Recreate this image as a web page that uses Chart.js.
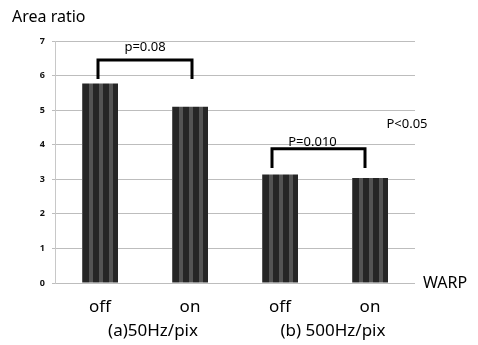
<!DOCTYPE html>
<html><head><meta charset="utf-8">
<script src="https://cdn.jsdelivr.net/npm/chart.js@4"></script>
<style>html,body{margin:0;padding:0;background:#fff}#c{display:block}</style>
</head><body>
<canvas id="c" width="478" height="345"></canvas>
<script>
const categories = ["off", "on", "off", "on"];
const areaRatio = [5.77, 5.1, 3.14, 3.04];
const yTicks = [0, 1, 2, 3, 4, 5, 6, 7];
const groupLabels = ["(a)50Hz/pix", "(b) 500Hz/pix"];
const pLabels = ["p=0.08", "P=0.010"];
const sideNote = "P<0.05";
const axisTitleY = "Area ratio";
const axisTitleX = "WARP";

const FONT = "'Noto Sans', 'Open Sans', sans-serif";

// striped pattern (period 10px aligns with 90px category spacing)
function makePattern(ctx){
  const p = document.createElement('canvas');
  p.width = 10; p.height = 10;
  const pc = p.getContext('2d');
  pc.fillStyle = '#545454'; pc.fillRect(0,0,10,10);
  pc.fillStyle = '#262626'; pc.fillRect(3,0,6,10);
  return ctx.createPattern(p, 'repeat');
}

const annot = {
  id: 'annot',
  afterDatasetsDraw(chart){
    const {ctx, scales:{x,y}} = chart;
    ctx.save();
    // brackets
    const brackets = [
      {a:0, b:1, top:6.45, leg:5.9, label:pLabels[0], da:-2, db:2, ty:-13, tx:0},
      {a:2, b:3, top:3.88, leg:3.33, label:pLabels[1], da:-8, db:-5, ty:-7, tx:-6}
    ];
    ctx.strokeStyle = '#000'; ctx.lineWidth = 3; ctx.lineJoin='miter';
    brackets.forEach(br=>{
      const xa = x.getPixelForValue(br.a) + br.da, xb = x.getPixelForValue(br.b) + br.db;
      const yt = y.getPixelForValue(br.top), yl = y.getPixelForValue(br.leg);
      ctx.beginPath();
      ctx.moveTo(xa, yl); ctx.lineTo(xa, yt); ctx.lineTo(xb, yt); ctx.lineTo(xb, yl);
      ctx.stroke();
      ctx.fillStyle = '#000';
      ctx.font = '13px ' + FONT;
      ctx.textAlign = 'center'; ctx.textBaseline = 'middle';
      ctx.fillText(br.label, (xa+xb)/2 + br.tx, yt + br.ty);
    });
    ctx.font = '13px ' + FONT;
    ctx.textAlign = 'center'; ctx.textBaseline = 'middle';
    ctx.fillText(sideNote, 407, y.getPixelForValue(4.6));
    // axis titles
    ctx.font = '16px ' + FONT;
    ctx.textAlign = 'left'; ctx.textBaseline = 'middle';
    ctx.fillText(axisTitleY, 12, 17);
    ctx.fillText(axisTitleX, 423, y.getPixelForValue(0));
    // group labels
    ctx.textAlign = 'center';
    ctx.font = '17px ' + FONT;
    [[0,1],[2,3]].forEach((g,i)=>{
      const cx = (x.getPixelForValue(g[0]) + x.getPixelForValue(g[1]))/2 + 8;
      ctx.fillText(groupLabels[i], cx, 331);
    });
    ctx.restore();
  }
};

const canvas = document.getElementById('c');
const ctx2 = canvas.getContext('2d');
new Chart(canvas, {
  type: 'bar',
  data: {
    labels: categories,
    datasets: [{
      data: areaRatio,
      backgroundColor: makePattern(ctx2),
      borderWidth: 0,
      barPercentage: 0.4,
      categoryPercentage: 1.0
    }]
  },
  options: {
    responsive: false,
    animation: false,
    devicePixelRatio: 1,
    layout: {padding: {left: 0, right: 63, top: 41, bottom: 0}},
    plugins: {legend: {display: false}, tooltip: {enabled: false}},
    scales: {
      x: {
        grid: {display: false, drawTicks: false},
        border: {display: false},
        ticks: {color: '#000', font: {family: FONT, size: 17}, padding: 14},
        afterFit(s){ s.height = 62; }
      },
      y: {
        min: 0, max: 7,
        afterBuildTicks(s){ s.ticks = yTicks.map(v=>({value:v})); },
        grid: {color: '#bdbdbd', lineWidth: 1, tickLength: 3},
        border: {display: true, color: '#c8c8c8'},
        ticks: {color: '#111', font: {family: FONT, size: 9, weight: 'bold'}, padding: 7},
        afterFit(s){ s.width = 55; }
      }
    }
  },
  plugins: [annot]
});
</script>
</body></html>
